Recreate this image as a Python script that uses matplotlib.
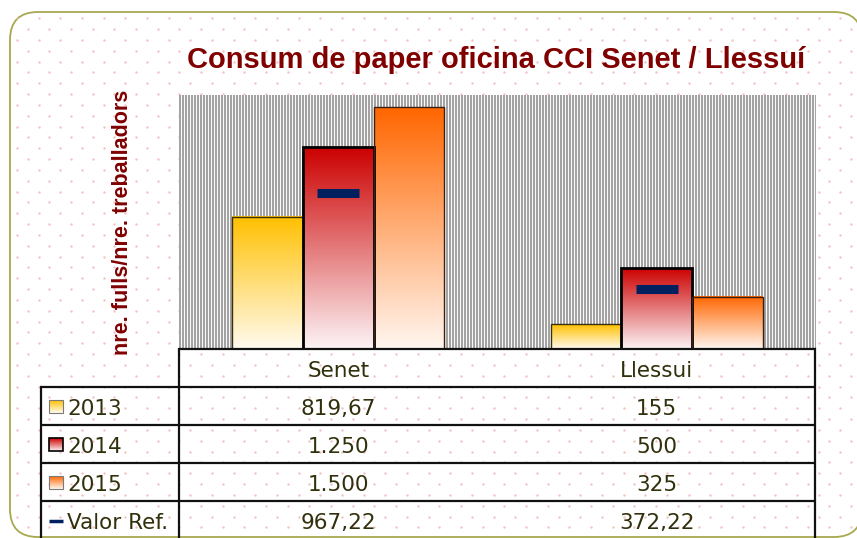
import numpy as np
import matplotlib.pyplot as plt
from matplotlib.colors import LinearSegmentedColormap
from matplotlib.patches import Rectangle, FancyBboxPatch

# dades
llocs = ['Senet', 'Llessui']
anys = ['2013', '2014', '2015']
v2013 = [819.67, 155]
v2014 = [1250, 500]
v2015 = [1500, 325]
valor_ref = [967.22, 372.22]
titol = 'Consum de paper oficina CCI Senet / Llessuí'
eix_y = 'nre. fulls/nre. treballadors'

# colors de cada any (baix, dalt) i vora
degradats = {'2013': ('#fffbf0', '#ffc000'),
             '2014': ('#fdf4f6', '#cc0000'),
             '2015': ('#fff7f0', '#ff6600')}
vores = {'2013': ('#3a3010', 1.0), '2014': ('#000000', 2.0), '2015': ('#3a2010', 1.0)}
color_ref = '#002060'
color_text = '#30300c'
granat = '#800000'

W, H = 857, 538
fig = plt.figure(figsize=(W / 100, H / 100), dpi=100)

# area del grafic en pixels
px0, px1, py0, py1 = 179, 816, 95, 349

# fons: marc arrodonit amb punts
bg = fig.add_axes([0, 0, 1, 1], zorder=0)
bg.set_xlim(0, W)
bg.set_ylim(H, 0)
bg.axis('off')
marc = FancyBboxPatch((10, 12), 852, 525, boxstyle='round,pad=0,rounding_size=28',
                      facecolor='white', edgecolor='#a8a850', lw=1.3, zorder=1)
bg.add_patch(marc)

pas_x, pas_y = 21.67, 10.83
files = np.arange(7.5, H + 5, pas_y)
px, py = [], []
for i, yy in enumerate(files):
    inici = 6.0 if i % 2 == 0 else 6.0 + pas_x / 2
    xx = np.arange(inici, W + 5, pas_x)
    px.extend(xx)
    py.extend([yy] * len(xx))
punts = bg.scatter(px, py, s=3, color='#f3c2c2', linewidths=0, zorder=2)
punts.set_clip_path(marc)

# ratlles verticals del fons del grafic
amplada = px1 - px0
ratlles = np.full((1, amplada, 3), 0.64)
ratlles[0, 2::3, :] = 0.98
bg.imshow(ratlles, extent=(px0, px1, py1, py0), aspect='auto',
          interpolation='nearest', zorder=3)

# barres
ax = fig.add_axes([px0 / W, 1 - py1 / H, amplada / W, (py1 - py0) / H], zorder=1)
ax.patch.set_visible(False)
x = np.arange(len(llocs))
amp = 0.222
grad = np.linspace(0, 1, 256).reshape(-1, 1)
for k, (any_, vals) in enumerate(zip(anys, [v2013, v2014, v2015])):
    cmap = LinearSegmentedColormap.from_list('g' + any_, degradats[any_])
    bars = ax.bar(x + (k - 1) * amp, vals, amp, facecolor='none',
                  edgecolor=vores[any_][0], lw=vores[any_][1], zorder=3)
    for b in bars:
        x0 = b.get_x()
        ax.imshow(grad, extent=(x0, x0 + amp, 0, b.get_height()), origin='lower',
                  aspect='auto', cmap=cmap, zorder=2)
ax.plot(x, valor_ref, ls='none', marker='_', ms=30, mew=6.5, color=color_ref, zorder=4)
ax.set_xlim(-0.5, len(llocs) - 0.5)
ax.set_ylim(0, 1575)
ax.axis('off')

# textos i taula de dades
tab = fig.add_axes([0, 0, 1, 1], zorder=3)
tab.patch.set_visible(False)
tab.set_xlim(0, W)
tab.set_ylim(H, 0)
tab.axis('off')

tab.text(496, 68, titol, ha='center', va='baseline', fontsize=21, fontweight='bold',
         color=granat, family='Liberation Sans')
tab.text(123, 222, eix_y, ha='center', va='center', rotation=90, fontsize=15.5,
         fontweight='bold', color=granat, family='Liberation Sans')

esq = 41
alt = 38
fil_top = [py1 + alt * (i + 1) for i in range(4)]
lw_t = 1.6
tab.plot([px0, px1], [py1, py1], color='#111111', lw=lw_t, solid_capstyle='butt')
for yy in fil_top:
    tab.plot([esq, px1], [yy, yy], color='#111111', lw=lw_t, solid_capstyle='butt')
tab.plot([px0, px0], [py1, H], color='#111111', lw=lw_t)
tab.plot([esq, esq], [fil_top[0], H], color='#111111', lw=lw_t)
tab.plot([px1 - 1, px1 - 1], [py1, H], color='#111111', lw=lw_t)

centres = [px0 + (i + 0.5) * amplada / len(llocs) for i in range(len(llocs))]


def fmt(v):
    s = f'{v:,.2f}'.replace(',', ' ').replace('.', ',').replace(' ', '.')
    return s[:-3] if s.endswith(',00') else s


mida = 15.5
for c, nom in zip(centres, llocs):
    tab.text(c, py1 + 28, nom, ha='center', va='baseline', fontsize=mida, color=color_text)

files_taula = [(a, v) for a, v in zip(anys, [v2013, v2014, v2015])] + [('Valor Ref.', valor_ref)]
for i, (nom, vals) in enumerate(files_taula):
    top = fil_top[i]
    tab.text(67, top + 28, nom, ha='left', va='baseline', fontsize=mida, color=color_text)
    for c, v in zip(centres, vals):
        tab.text(c, top + 28, fmt(v), ha='center', va='baseline', fontsize=mida, color=color_text)
    if nom in degradats:
        cmap = LinearSegmentedColormap.from_list('k' + nom, degradats[nom])
        tab.imshow(grad, extent=(49, 63, top + 26, top + 13), origin='lower',
                   aspect='auto', cmap=cmap, zorder=2)
        vc = '#000000' if nom == '2014' else '#7a7a7a'
        tab.add_patch(Rectangle((49, top + 13), 14, 13, facecolor='none',
                                edgecolor=vc, lw=1.2 if nom == '2014' else 0.8, zorder=3))
    else:
        tab.plot([49, 63], [top + 20, top + 20], color=color_ref, lw=2.5,
                 solid_capstyle='butt')

tab.set_xlim(0, W)
tab.set_ylim(H, 0)

fig.savefig('out.png', dpi=100)
